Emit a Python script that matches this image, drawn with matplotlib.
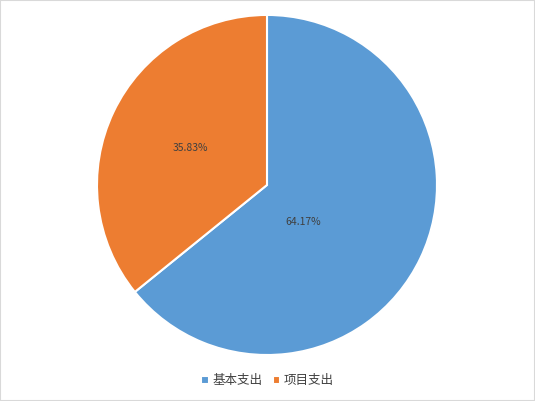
import matplotlib
matplotlib.use("Agg")
import matplotlib.pyplot as plt
from matplotlib.patches import Rectangle

plt.rcParams['font.family'] = ['Noto Sans CJK SC', 'DejaVu Sans']

labels = ['基本支出', '项目支出']
values = [64.17, 35.83]
colors = ['#5B9BD5', '#ED7D31']

fig = plt.figure(figsize=(5.35, 4.01), dpi=100)
ax = fig.add_axes([0.1813, 0.1147, 0.6355, 0.848])

wedges, texts, autotexts = ax.pie(
    values, colors=colors, startangle=90, counterclock=False,
    autopct='%.2f%%', pctdistance=0.5,
    wedgeprops=dict(edgecolor='white', linewidth=1.5),
    textprops=dict(fontsize=7.5, color='#404040'))
# excel puts the big slice's label closer in
autotexts[0].set_position((0.21, -0.22))
ax.set_xlim(-1, 1)
ax.set_ylim(-1, 1)
ax.set_aspect('auto')

fig.legend(wedges, labels, loc='center', bbox_to_anchor=(0.5, 0.05),
           ncol=2, frameon=False, fontsize=9, handlelength=0.6,
           handleheight=0.6, handletextpad=0.3, columnspacing=0.8,
           labelcolor='#404040')

fig.patches.append(Rectangle((0, 0), 1, 1, transform=fig.transFigure,
                             fill=False, edgecolor='#D9D9D9', linewidth=1.5))

fig.savefig('out.png', dpi=100)
